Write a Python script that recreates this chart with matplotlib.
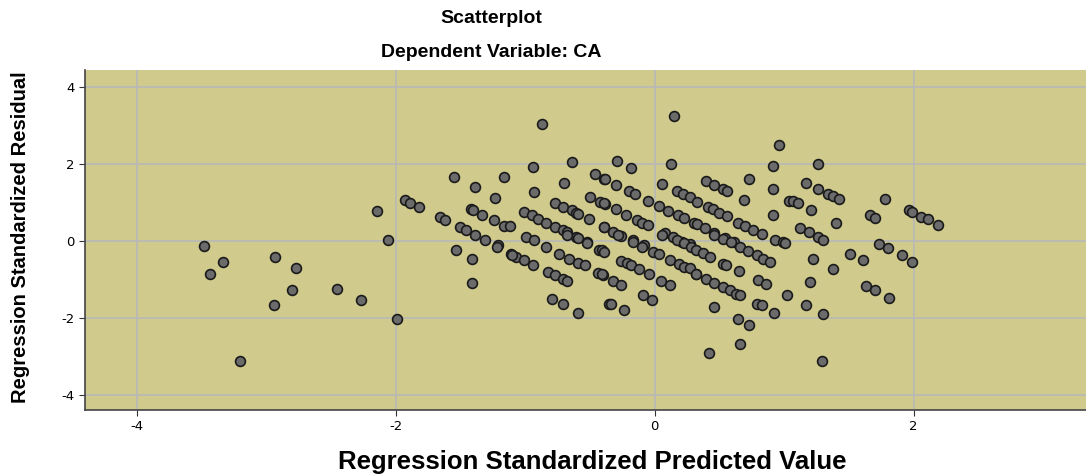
import matplotlib.pyplot as plt

plt.rcParams['axes.unicode_minus'] = False

# Regression Standardized Predicted Value / Residual
pred = [
    -3.48, -3.33, -3.43, -2.93, -2.77, -2.80, -2.94, -2.45, -2.27, -3.20,
    -2.14, -2.06, -1.99, -1.93, -1.89, -1.82,
    -0.87, 0.15, 0.96, -0.94, -0.64, -0.29, -0.18, 0.13, 0.91, 1.26,
    -1.55, -1.16, -1.39, -1.23,
    -1.66, -1.62, -1.42, -1.40, -1.33, -1.24, -1.16,
    -1.50, -1.46, -1.39, -1.31, -1.21,
    -1.53, -1.41, -1.41, -1.22, -1.11, -1.07,
    -0.70, -0.46, -0.39, -0.93, -0.50, -0.42, -0.38,
    -0.77, -0.71, -0.64, -0.61, -0.59, -0.51,
    -1.01, -0.95, -0.90, -0.84, -0.77, -0.71, -0.68, -0.61, -0.52,
    -1.12, -0.39, -0.99, -0.93,
    -0.84, -0.74, -0.66, -0.59, -0.54,
    -0.68, -0.59, -0.52, -0.43,
    -1.10, -1.01, -0.94,
    -0.82, -0.77, -0.71, -0.68, -0.44, -0.40,
    -0.79, -0.71, -0.59, -0.35,
    -0.38, -0.30, 0.06, -0.20, -0.15,
    0.17, 0.22, 0.27, 0.33,
    -0.05, 0.03, 0.10, 0.18, 0.23, 0.30,
    -0.39, -0.30, -0.22, -0.14, -0.10, -0.05,
    -0.39, -0.32, -0.26, -0.17, -0.08,
    0.08, 0.14, 0.21, 0.27,
    -0.28, -0.17, -0.10, -0.41, -0.39,
    -0.01, 0.03, 0.12, 0.19, 0.23, 0.32,
    0.06, 0.17, 0.23, 0.28, 0.32,
    -0.26, -0.21, -0.18, -0.12, -0.04,
    -0.41, -0.32, -0.26, 0.05, 0.12,
    -0.09, -0.02, -0.34, -0.24,
    0.73, 0.40, 0.46, 0.53, 0.56, 0.91, 0.69,
    0.41, 0.45, 0.50, 0.56, 0.91, 1.04,
    0.64, 0.70, 0.76, 0.83,
    0.33, 0.39, 0.46, 0.54, 0.61, 0.93, 0.99,
    0.46, 0.53, 0.59, 0.66,
    0.37, 0.43, 0.72, 0.79, 0.84, 0.89,
    0.53, 0.55, 0.65, 0.27,
    0.32, 0.40, 0.46, 0.53, 0.58, 0.63, 0.66,
    0.80, 0.86, 1.02, 0.79, 0.83, 0.92, 0.46,
    0.64, 0.73, 0.66, 0.42,
    1.17, 1.26, 1.34, 1.38, 1.42, 1.07, 1.11, 1.21,
    1.78, 1.40, 1.66, 1.70, 1.12, 1.19, 1.26, 1.30, 1.01,
    1.51, 1.61, 1.22, 1.38, 1.20, 1.63, 1.70, 1.17, 1.30, 1.29,
    1.96, 1.99, 2.06, 2.11, 2.19,
    1.73, 1.80, 1.91, 1.99, 1.81,
]
resid = [
    -0.13, -0.54, -0.85, -0.42, -0.70, -1.27, -1.68, -1.24, -1.53, -3.13,
    0.78, 0.01, -2.02, 1.06, 0.99, 0.87,
    3.05, 3.24, 2.49, 1.91, 2.04, 2.07, 1.89, 2.01, 1.95, 1.99,
    1.67, 1.65, 1.39, 1.12,
    0.61, 0.54, 0.82, 0.79, 0.67, 0.53, 0.38,
    0.35, 0.27, 0.15, 0.02, -0.10,
    -0.25, -0.47, -1.10, -0.16, -0.34, -0.42,
    1.51, 1.74, 1.60, 1.26, 1.15, 1.02, 0.95,
    0.99, 0.89, 0.80, 0.73, 0.70, 0.57,
    0.75, 0.67, 0.58, 0.47, 0.37, 0.27, 0.22, 0.10, -0.04,
    0.39, 0.37, 0.11, 0.01,
    -0.17, -0.34, -0.47, -0.57, -0.64,
    0.16, 0.07, -0.06, -0.23,
    -0.36, -0.49, -0.64,
    -0.81, -0.90, -0.98, -1.05, -0.84, -0.90,
    -1.51, -1.63, -1.87, -1.64,
    1.61, 1.45, 1.48, 1.30, 1.21,
    1.30, 1.22, 1.13, 1.02,
    1.04, 0.91, 0.78, 0.67, 0.59, 0.47,
    0.98, 0.82, 0.67, 0.54, 0.47, 0.41,
    0.37, 0.24, 0.13, 0.01, -0.10,
    0.20, 0.10, -0.02, -0.08,
    0.16, -0.02, -0.15, -0.23, -0.28,
    -0.28, -0.35, -0.49, -0.60, -0.69, -0.86,
    0.16, 0.03, -0.06, -0.15, -0.23,
    -0.52, -0.58, -0.64, -0.73, -0.86,
    -0.86, -1.04, -1.16, -1.04, -1.16,
    -1.42, -1.55, -1.64, -1.81,
    1.61, 1.55, 1.45, 1.34, 1.29, 1.34, 1.06,
    0.89, 0.82, 0.73, 0.65, 0.67, 1.04,
    0.47, 0.39, 0.28, 0.17,
    0.44, 0.33, 0.20, 0.07, -0.04, 0.03, -0.04,
    0.16, 0.05, -0.03, -0.15,
    -0.32, -0.41, -0.26, -0.36, -0.47, -0.54,
    -0.60, -0.64, -0.78, -0.71,
    -0.86, -0.98, -1.10, -1.20, -1.27, -1.37, -1.42,
    -1.03, -1.12, -1.42, -1.64, -1.68, -1.87, -1.72,
    -2.03, -2.18, -2.69, -2.91,
    1.51, 1.35, 1.22, 1.17, 1.10, 1.04, 0.98, 0.80,
    1.10, 0.47, 0.67, 0.60, 0.33, 0.22, 0.10, 0.03, -0.06,
    -0.34, -0.51, -0.47, -0.73, -1.08, -1.17, -1.27, -1.68, -1.89, -3.13,
    0.80, 0.74, 0.61, 0.56, 0.41,
    -0.08, -0.19, -0.38, -0.54, -1.49,
]

fig = plt.figure(figsize=(10.86, 4.74), dpi=100)
ax = fig.add_axes([0.078, 0.135, 0.922, 0.717])
ax.set_facecolor('#d0ca8c')

ax.scatter(pred, resid, s=50, c='#6b6b6b', edgecolors='#1a1a1a',
           linewidths=1.2, zorder=3)

ax.set_xlim(-4.4, 3.33)
ax.set_ylim(-4.4, 4.44)
ax.set_xticks([-4, -2, 0, 2])
ax.set_yticks([-4, -2, 0, 2, 4])
ax.grid(True, color='#b8b8b8', linewidth=1.2, zorder=0)
ax.tick_params(labelsize=9.5, length=4, color='#333333')

for s in ['top', 'right']:
    ax.spines[s].set_visible(False)
for s in ['left', 'bottom']:
    ax.spines[s].set_color('#444444')
    ax.spines[s].set_linewidth(1.2)

fig.text(0.452, 0.962, 'Scatterplot', ha='center', va='center',
         fontsize=14, fontweight='bold', family='Liberation Sans')
fig.text(0.452, 0.89, 'Dependent Variable: CA', ha='center', va='center',
         fontsize=14, fontweight='bold', family='Liberation Sans')
fig.text(0.545, 0.026, 'Regression Standardized Predicted Value', ha='center',
         va='center', fontsize=18.5, fontweight='bold', family='Liberation Sans')
fig.text(0.019, 0.5, 'Regression Standardized Residual', ha='center',
         va='center', rotation=90, fontsize=14.5, fontweight='bold',
         family='Liberation Sans')

plt.savefig('out.png', dpi=100)
